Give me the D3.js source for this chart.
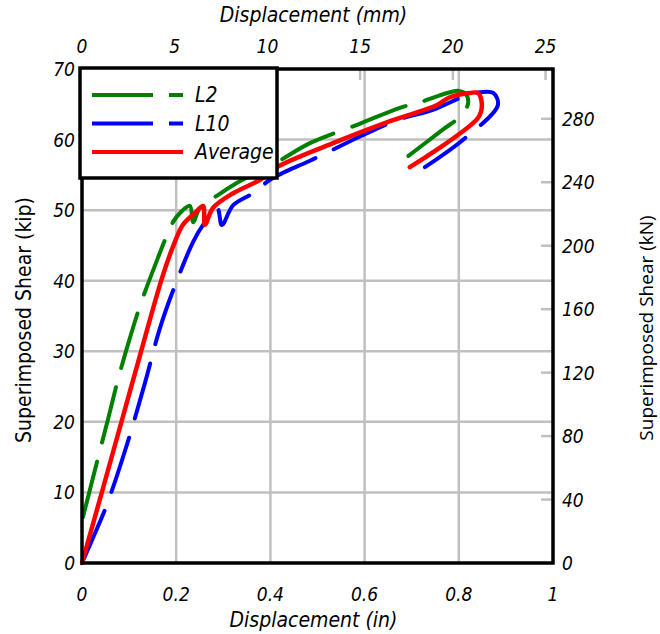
<!DOCTYPE html>
<html>
<head>
<meta charset="utf-8">
<script src="https://cdn.jsdelivr.net/npm/d3@7"></script>
<style>
  body { margin: 0; background: #fff; }
  svg text { font-family: 'Liberation Sans Narrow', 'DejaVu Sans Condensed', sans-serif; fill: #000; }
</style>
</head>
<body>
<svg id="chart" width="660" height="634"></svg>
<script>
const dispTicks = [0, 0.2, 0.4, 0.6, 0.8, 1];
const shearTicks = [0, 10, 20, 30, 40, 50, 60, 70];
const mmTicks = [0, 5, 10, 15, 20, 25];
const knTicks = [0, 40, 80, 120, 160, 200, 240, 280];

const seriesNames = ['L2', 'L10', 'Average'];
const seriesColors = ['#008000', '#0000ff', '#ff0000'];

const l2Disp = [0.002, 0.034, 0.055, 0.076, 0.100, 0.125, 0.161, 0.180, 0.193, 0.208, 0.229, 0.236, 0.251, 0.290, 0.325, 0.370, 0.414, 0.484, 0.588, 0.675, 0.718, 0.781, 0.800, 0.813, 0.820, 0.807, 0.766, 0.662];
const l2Shear = [6.5, 14.9, 20.3, 25.9, 31.5, 36.8, 43.2, 46.4, 48.3, 49.6, 50.6, 48.3, 50.4, 52.2, 53.7, 55.3, 56.8, 59.5, 62.2, 64.5, 65.3, 66.7, 66.9, 66.6, 65.3, 63.5, 61.4, 56.1];

const l10Disp = [0, 0.023, 0.053, 0.096, 0.134, 0.166, 0.202, 0.236, 0.257, 0.287, 0.297, 0.321, 0.363, 0.399, 0.427, 0.484, 0.605, 0.675, 0.745, 0.817, 0.845, 0.873, 0.883, 0.813, 0.728];
const l10Shear = [0, 3.5, 8.3, 16.9, 25.6, 33.4, 40.1, 45.5, 47.9, 50.3, 47.9, 50.7, 52.4, 54.3, 55.3, 57.0, 60.9, 62.9, 64.2, 66.3, 66.7, 66.6, 64.9, 60.2, 56.1];

const avgDisp = [0, 0.045, 0.085, 0.123, 0.170, 0.193, 0.214, 0.240, 0.257, 0.261, 0.278, 0.321, 0.378, 0.414, 0.541, 0.654, 0.754, 0.781, 0.824, 0.841, 0.849, 0.841, 0.696];
const avgShear = [0, 10.7, 20.3, 29.4, 40.4, 44.8, 47.9, 49.6, 50.6, 47.9, 50.3, 52.4, 54.3, 56.1, 59.7, 62.6, 64.9, 66.0, 66.6, 66.6, 64.9, 63.1, 56.1];

const KIP_TO_KN = 4.448222;
const IN_TO_MM = 25.4;

class Chart {
  constructor(elm, opt) {
    opt = { ...opt, margin: { top: 69, right: 107, bottom: 71, left: 82 } };
    this._svg = d3.select(elm);
    this._opt = opt;
    this.resize();
    this._scales = {};
    this._scales.x = d3.scaleLinear().domain([0, 1]).range([0, this._opt.cWidth]);
    this._scales.y = d3.scaleLinear().domain([0, 70]).range([this._opt.cHeight, 0]);
    this._scales.mm = d3.scaleLinear().domain([0, IN_TO_MM]).range([0, this._opt.cWidth]);
    this._scales.kn = d3.scaleLinear().domain([0, 70 * KIP_TO_KN]).range([this._opt.cHeight, 0]);
    this._container = this._svg.append('g')
      .attr('transform', `translate(${opt.margin.left},${opt.margin.top})`);
    this._gridGroup = this._container.append('g');
    this._graphGroup = this._container.append('g');
    this._axisGroup = this._container.append('g');
    this._legendGroup = this._container.append('g');
  }
  resize () {
    this._opt.width = +this._svg.attr('width');
    this._opt.height = +this._svg.attr('height');
    this._opt.cWidth = this._opt.width - this._opt.margin.left - this._opt.margin.right;
    this._opt.cHeight = this._opt.height - this._opt.margin.top - this._opt.margin.bottom;
  }
  updateData (data) {
    this.data = data;
    this.mountGrid();
    this.render();
    this.mountAxis();
    this.mountLegend();
  }
  mountGrid () {
    const { x, y, mm, kn } = this._scales;
    const w = this._opt.cWidth, h = this._opt.cHeight;
    const g = this._gridGroup;
    const grey = '#c0c0c0';
    g.selectAll('line.vgrid').data(dispTicks.slice(1, -1)).join('line')
      .attr('class', 'vgrid')
      .attr('x1', d => x(d)).attr('x2', d => x(d)).attr('y1', 0).attr('y2', h)
      .attr('stroke', grey).attr('stroke-width', 2.5);
    g.selectAll('line.hgrid').data(shearTicks.slice(1, -1)).join('line')
      .attr('class', 'hgrid')
      .attr('x1', 0).attr('x2', w).attr('y1', d => y(d)).attr('y2', d => y(d))
      .attr('stroke', grey).attr('stroke-width', 2.5);
    // inner ticks for the secondary axes
    g.selectAll('line.mmtick').data(mmTicks.slice(1)).join('line')
      .attr('class', 'mmtick')
      .attr('x1', d => mm(d)).attr('x2', d => mm(d)).attr('y1', 0).attr('y2', 11)
      .attr('stroke', grey).attr('stroke-width', 2.5);
    g.selectAll('line.kntick').data(knTicks.slice(1)).join('line')
      .attr('class', 'kntick')
      .attr('x1', w - 12).attr('x2', w).attr('y1', d => kn(d)).attr('y2', d => kn(d))
      .attr('stroke', grey).attr('stroke-width', 2.5);
  }
  render () {
    const { x, y } = this._scales;
    const line = d3.line().x(d => x(d[0])).y(d => y(d[1])).curve(d3.curveCatmullRom.alpha(0.5));
    this._graphGroup.selectAll('path.series').data(this.data).join('path')
      .attr('class', 'series')
      .attr('d', d => line(d.points))
      .attr('fill', 'none')
      .attr('stroke', d => d.color)
      .attr('stroke-width', d => d.dashed ? 4 : 4.5)
      .attr('stroke-linecap', 'round')
      .attr('stroke-linejoin', 'round')
      .attr('stroke-dasharray', d => d.dashed ? '57 20' : null);
  }
  mountAxis () {
    const { x, y, mm, kn } = this._scales;
    const w = this._opt.cWidth, h = this._opt.cHeight;
    const g = this._axisGroup;
    g.append('rect').attr('x', 0).attr('y', 0).attr('width', w).attr('height', h)
      .attr('fill', 'none').attr('stroke', '#000').attr('stroke-width', 3.5);

    const tickText = (cls, data, ax, ay, anchor) => g.selectAll('text.' + cls).data(data).join('text')
      .attr('class', cls)
      .attr('x', ax).attr('y', ay)
      .attr('text-anchor', anchor)
      .attr('font-size', 19)
      .attr('font-style', 'italic')
      .text(d => d);

    tickText('xb', dispTicks, d => x(d), h + 38, 'middle');
    tickText('xt', mmTicks, d => mm(d), -16, 'middle');
    tickText('yl', shearTicks, -7, d => y(d) + 7, 'end');
    tickText('yr', knTicks, w + 9, d => kn(d) + 7, 'start');

    g.append('text').attr('x', w / 2 - 4).attr('y', h + 64)
      .attr('text-anchor', 'middle').attr('font-size', 21).attr('font-style', 'italic')
      .text('Displacement (in)');
    g.append('text').attr('x', w / 2 - 4).attr('y', -47)
      .attr('text-anchor', 'middle').attr('font-size', 21).attr('font-style', 'italic')
      .text('Displacement (mm)');
    g.append('text').attr('transform', `translate(-51,${h / 2 + 4}) rotate(-90)`)
      .attr('text-anchor', 'middle').attr('font-size', 21)
      .text('Superimposed Shear (kip)');
    g.append('text').attr('transform', `translate(${w + 100},${h / 2 + 12}) rotate(-90)`)
      .attr('text-anchor', 'middle').attr('font-size', 19)
      .style('font-family', "'Open Sans', sans-serif")
      .text('Superimposed Shear (kN)');
  }
  mountLegend () {
    const g = this._legendGroup.attr('transform', 'translate(-2,-1)');
    g.append('rect').attr('x', 0).attr('y', 0).attr('width', 197).attr('height', 110)
      .attr('fill', '#fff').attr('stroke', '#000').attr('stroke-width', 3.5);
    const rows = g.selectAll('g.row').data(this.data).join('g')
      .attr('class', 'row')
      .attr('transform', (d, i) => `translate(12,${27 + i * 28.5})`);
    rows.append('line').attr('x1', 0).attr('x2', 91).attr('y1', 0).attr('y2', 0)
      .attr('stroke', d => d.color).attr('stroke-width', 4)
      .attr('stroke-dasharray', d => d.dashed ? '61 16' : null);
    rows.append('text').attr('x', 103).attr('y', 7)
      .attr('font-size', 21).attr('font-style', 'italic')
      .text(d => d.name);
  }
}

const data = [
  { name: seriesNames[0], color: seriesColors[0], dashed: true, points: d3.zip(l2Disp, l2Shear) },
  { name: seriesNames[1], color: seriesColors[1], dashed: true, points: d3.zip(l10Disp, l10Shear) },
  { name: seriesNames[2], color: seriesColors[2], dashed: false, points: d3.zip(avgDisp, avgShear) }
];

const chart = new Chart('#chart', {});
chart.updateData(data);
</script>
</body>
</html>
